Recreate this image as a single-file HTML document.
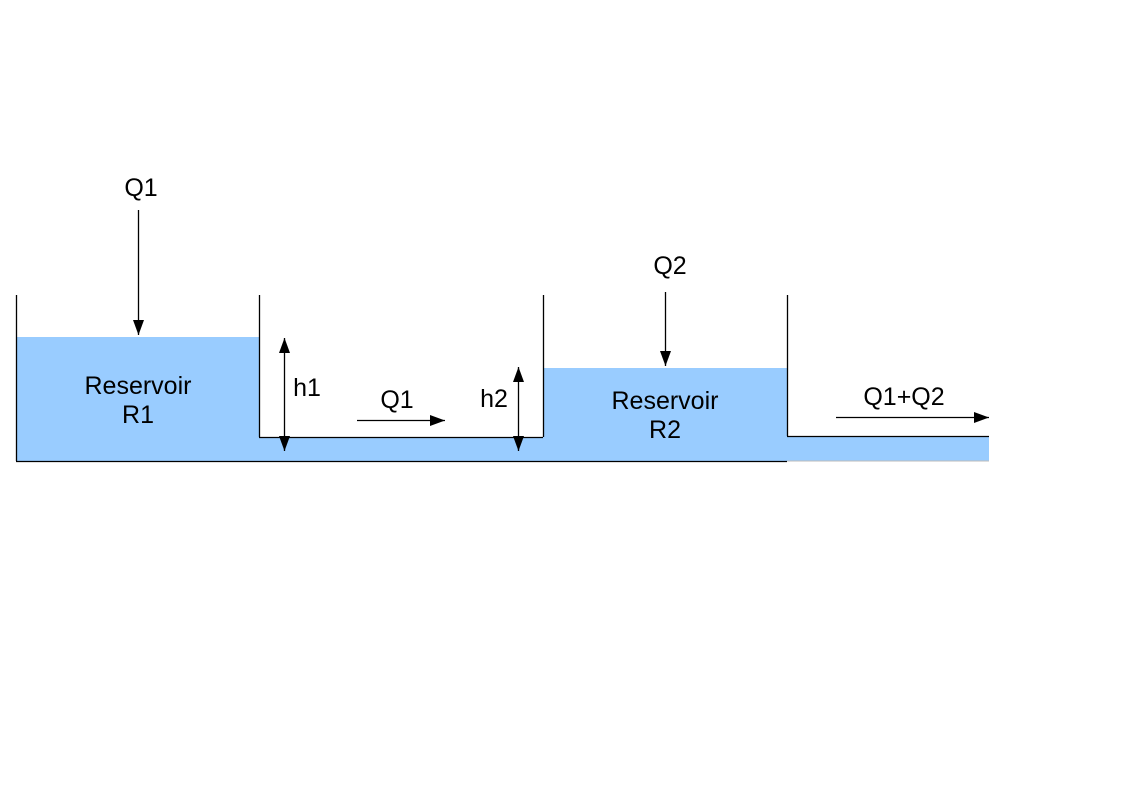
<!DOCTYPE html>
<html><head><meta charset="utf-8"><style>
html,body{margin:0;padding:0;background:#fff;}
svg{display:block}
text{font-family:"Liberation Sans",sans-serif;font-size:25px;fill:#000;text-anchor:middle}
</style></head><body>
<svg width="1123" height="794" viewBox="0 0 1123 794" xmlns="http://www.w3.org/2000/svg">
<defs>
<marker id="a" markerWidth="15" markerHeight="11" refX="15" refY="5.5" orient="auto" markerUnits="userSpaceOnUse" viewBox="0 0 15 11"><path d="M0,0L15,5.5L0,11z" fill="#000"/></marker>
<marker id="b" markerWidth="15" markerHeight="11" refX="15" refY="5.5" orient="auto-start-reverse" markerUnits="userSpaceOnUse" viewBox="0 0 15 11"><path d="M0,0L15,5.5L0,11z" fill="#000"/></marker>
</defs>
<rect x="16" y="337" width="243" height="124" fill="#99ccff"/>
<rect x="259" y="437" width="284" height="24" fill="#99ccff"/>
<rect x="543" y="368" width="244" height="93" fill="#99ccff"/>
<rect x="787" y="436" width="202" height="25" fill="#99ccff"/>
<g stroke="#000" stroke-width="1.3" fill="none">
<line x1="16.5" y1="295" x2="16.5" y2="461"/>
<line x1="16" y1="461.5" x2="787" y2="461.5"/>
<line x1="259.5" y1="295" x2="259.5" y2="437"/>
<line x1="259" y1="437.5" x2="543" y2="437.5"/>
<line x1="543.5" y1="295" x2="543.5" y2="437"/>
<line x1="787.5" y1="295" x2="787.5" y2="436"/>
<line x1="787" y1="436.5" x2="989" y2="436.5"/>
</g>
<line x1="787" y1="461" x2="989" y2="461" stroke="#bbb" stroke-width="1"/>
<g stroke="#000" stroke-width="1.3">
<line x1="138.5" y1="210" x2="138.5" y2="335" marker-end="url(#a)"/>
<line x1="665.5" y1="292" x2="665.5" y2="366" marker-end="url(#a)"/>
<line x1="284.5" y1="338" x2="284.5" y2="451" marker-start="url(#b)" marker-end="url(#b)"/>
<line x1="518.5" y1="367" x2="518.5" y2="451" marker-start="url(#b)" marker-end="url(#b)"/>
<line x1="357" y1="420.5" x2="445" y2="420.5" marker-end="url(#a)"/>
<line x1="836" y1="417.5" x2="989" y2="417.5" marker-end="url(#a)"/>
</g>
<text x="141" y="196">Q1</text>
<text x="138" y="394">Reservoir</text>
<text x="138" y="423">R1</text>
<text x="307" y="396">h1</text>
<text x="397" y="408">Q1</text>
<text x="494" y="407">h2</text>
<text x="670" y="274">Q2</text>
<text x="665" y="409">Reservoir</text>
<text x="665" y="438">R2</text>
<text x="904" y="405">Q1+Q2</text>
</svg>
</body></html>
